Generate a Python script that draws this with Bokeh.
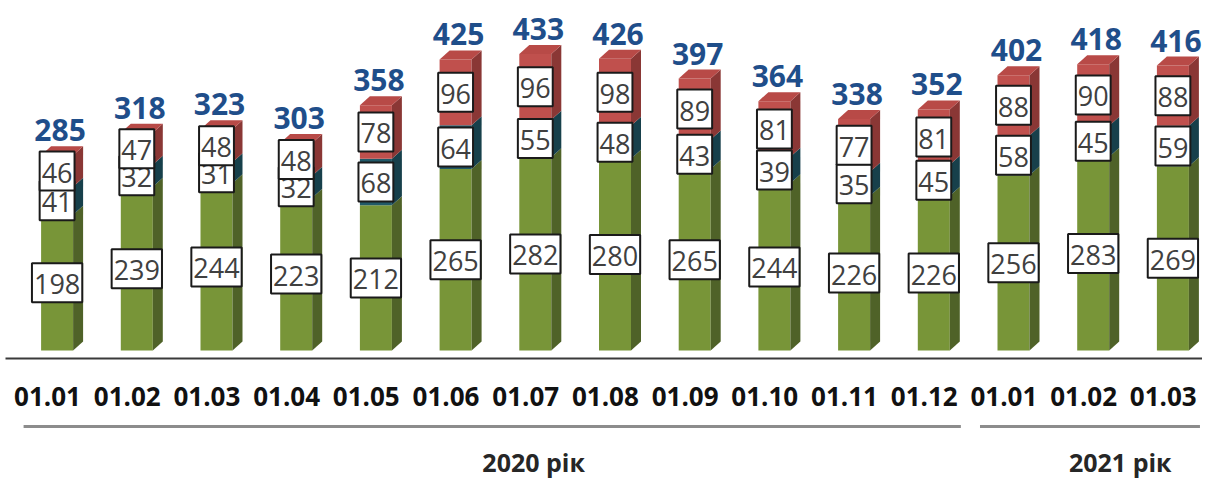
import numpy as np
from bokeh.plotting import figure
from bokeh.models import Range1d
from bokeh.core.properties import value
from bokeh.embed import file_html
from bokeh.resources import INLINE

months = ["01.01", "01.02", "01.03", "01.04", "01.05", "01.06", "01.07", "01.08",
          "01.09", "01.10", "01.11", "01.12", "01.01", "01.02", "01.03"]
green = [198, 239, 244, 223, 212, 265, 282, 280, 265, 244, 226, 226, 256, 283, 269]
teal = [41, 32, 31, 32, 68, 64, 55, 48, 43, 39, 35, 45, 58, 45, 59]
red = [46, 47, 48, 48, 78, 96, 96, 98, 89, 81, 77, 81, 88, 90, 88]
totals = [285, 318, 323, 303, 358, 425, 433, 426, 397, 364, 338, 352, 402, 418, 416]
years = ["2020 рік", "2021 рік"]
year_groups = [(0, 11), (12, 14)]

PX_X = 79.7      # px per category
PX_Y = 0.685     # px per unit
W, H = 1202, 480
X0, Y0 = 0, 0    # page origin of the figure

p = figure(width=W, height=H, output_backend="svg", toolbar_location=None,
           x_range=Range1d((X0 - 47) / PX_X, (X0 + W - 47) / PX_X),
           y_range=Range1d(-(Y0 + H - 350) / PX_Y, (350 - Y0) / PX_Y),
           min_border=0, min_border_left=0, min_border_right=0,
           min_border_top=0, min_border_bottom=0)
p.axis.visible = False
p.grid.visible = False
p.outline_line_color = None
p.background_fill_color = "white"

n = len(months)
idx = np.arange(n)
off = 9.6 / PX_X
hw = 16.0 / PX_X
dx = 10.0 / PX_X
dy = 9.0 / PX_Y
cx = idx + off
left = cx - hw
right = cx + hw

g = np.array(green, float)
t = np.array(teal, float)
r = np.array(red, float)
b0 = np.zeros(n)
b1 = g
b2 = g + t
b3 = g + t + r

segs = [(b0, b1, "#789538", "#4F6228"),
        (b1, b2, "#215968", "#17404B"),
        (b2, b3, "#C0504D", "#8A3735")]

for lo, hi, front, side in segs:
    p.quad(left=left, right=right, bottom=lo, top=hi, fill_color=front, line_color=None)
    xs = [[rr, rr + dx, rr + dx, rr] for rr in right]
    ys = [[l0, l0 + dy, h0 + dy, h0] for l0, h0 in zip(lo, hi)]
    p.patches(xs, ys, fill_color=side, line_color=None)

# top faces
xs = [[l, rr, rr + dx, l + dx] for l, rr in zip(left, right)]
ys = [[T, T, T + dy, T + dy] for T in b3]
p.patches(xs, ys, fill_color="#B84A47", line_color=None)

lab_kw = dict(text_font=value("Open Sans"), text_font_size="27px", text_color="#404040",
              text_align="center", text_baseline="middle",
              background_fill_color="white", border_line_color="#1a1a1a",
              border_line_width=2, padding=dict(left=2, right=2, top=11, bottom=8))
p.text(x=cx, y=(b0 + b1) / 2, text=[str(v) for v in green], **lab_kw)
p.text(x=cx, y=(b1 + b2) / 2, text=[str(v) for v in teal], **lab_kw)
p.text(x=cx, y=(b2 + b3) / 2, text=[str(v) for v in red], **lab_kw)

# totals
p.text(x=cx + 3 / PX_X, y=np.array(totals, float), text=[str(v) for v in totals],
       text_font=value("Open Sans"), text_font_style="bold", text_font_size="30px",
       text_color="#1F4E8A", text_align="center", text_baseline="alphabetic",
       y_offset=-25)

# baseline
p.line(x=[(5 - 47) / PX_X, (1206 - 47) / PX_X], y=[-8 / PX_Y, -8 / PX_Y],
       line_color="#3a3a3a", line_width=2)

# category labels
p.text(x=idx, y=np.full(n, -46 / PX_Y), text=months,
       text_font=value("Open Sans"), text_font_style="bold", text_font_size="26px",
       text_color="#111111", text_align="center", text_baseline="middle")

# year group lines and labels
for (a, bnd), yl in zip(year_groups, years):
    p.line(x=[a - 0.30, bnd + 0.46], y=[-76 / PX_Y, -76 / PX_Y], line_color="#8C8C8C", line_width=3)
lab_x = [6.1, 13.46]
p.text(x=lab_x, y=[-111 / PX_Y] * 2, text=years,
       text_font=value("Open Sans"), text_font_style="bold", text_font_size="25px",
       text_color="#262626", text_align="center", text_baseline="middle")

open("out.html", "w").write(file_html(p, INLINE))
